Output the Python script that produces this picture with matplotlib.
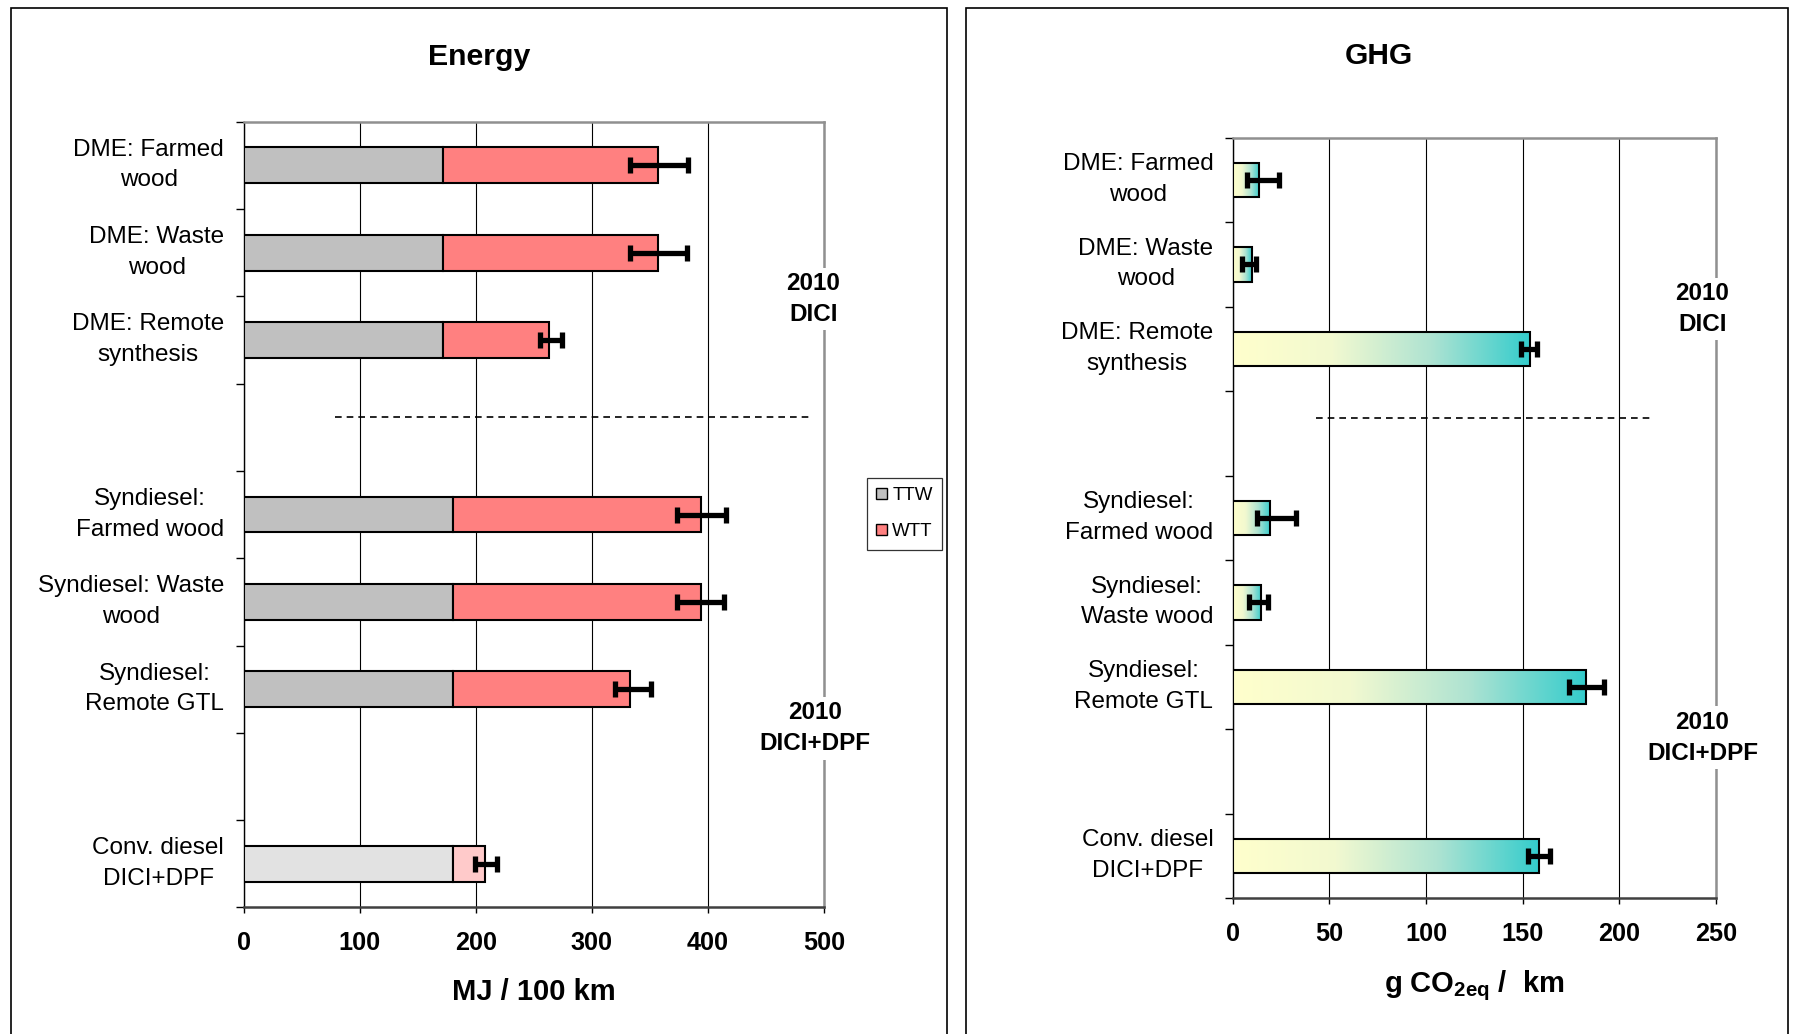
import numpy as np
import matplotlib
matplotlib.use('Agg')
import matplotlib.pyplot as plt
from matplotlib.patches import Rectangle, Patch
from matplotlib.colors import LinearSegmentedColormap
import matplotlib.transforms as mtransforms

plt.rcParams['font.family'] = ['Liberation Sans', 'DejaVu Sans']
plt.rcParams['mathtext.fontset'] = 'custom'
plt.rcParams['mathtext.rm'] = 'Liberation Sans'
plt.rcParams['mathtext.bf'] = 'Liberation Sans:bold'

# ---------------- data ----------------
energy_labels = ["DME: Farmed\nwood", "DME: Waste\nwood", "DME: Remote\nsynthesis",
                 "Syndiesel:\nFarmed wood", "Syndiesel: Waste\nwood",
                 "Syndiesel:\nRemote GTL", "Conv. diesel\nDICI+DPF"]
ghg_labels = ["DME: Farmed\nwood", "DME: Waste\nwood", "DME: Remote\nsynthesis",
              "Syndiesel:\nFarmed wood", "Syndiesel:\nWaste wood",
              "Syndiesel:\nRemote GTL", "Conv. diesel\nDICI+DPF"]
slots = [0, 1, 2, 4, 5, 6, 8]          # row index (gaps at 3 and 7)
energy_ttw = [172, 172, 172, 180, 180, 180, 180]
energy_total = [357, 357, 263, 394, 394, 333, 208]
energy_err_low = [333, 333, 255, 373, 373, 320, 199]
energy_err_high = [383, 382, 274, 416, 414, 351, 218]
ghg_total = [13.7, 9.8, 153.7, 19.5, 14.8, 182.8, 158.5]
ghg_err_low = [7.5, 4.7, 149.0, 12.6, 8.6, 174.0, 152.6]
ghg_err_high = [23.7, 12.0, 157.4, 32.6, 18.1, 192.0, 164.0]
energy_ticks = [0, 100, 200, 300, 400, 500]
ghg_ticks = [0, 50, 100, 150, 200, 250]
legend_labels = ["TTW", "WTT"]
group_labels = ["2010\nDICI", "2010\nDICI+DPF"]

W, H = 1796, 1034
fig = plt.figure(figsize=(W / 100, H / 100), dpi=100)
fig.patch.set_facecolor('white')

def fx(px):
    return px / W

def fy(py):
    return 1 - py / H

# panel borders
fig.add_artist(Rectangle((fx(11), -0.05), fx(947) - fx(11), fy(8) + 0.05,
                         transform=fig.transFigure, fill=False, edgecolor='black', lw=1.2))
fig.add_artist(Rectangle((fx(966), -0.05), fx(1788) - fx(966), fy(8) + 0.05,
                         transform=fig.transFigure, fill=False, edgecolor='black', lw=1.2))

axL = fig.add_axes([fx(243.6), fy(907.4), fx(824) - fx(243.6), fy(121.7) - fy(907.4)])
axR = fig.add_axes([fx(1232.7), fy(898.2), fx(1716) - fx(1232.7), fy(137.7) - fy(898.2)])

TICK_FS = 18.2
CAT_FS = 17.5
GRP_FS = 17.5

def style_axis(ax, ticks, labels):
    ax.set_xlim(ticks[0], ticks[-1])
    ax.set_ylim(8.5, -0.5)
    ax.set_xticks(ticks)
    ax.set_xticklabels([str(t) for t in ticks], fontsize=TICK_FS, fontweight='bold')
    ax.tick_params(axis='x', direction='out', length=4, width=1, pad=13, color='black')
    ax.set_yticks(np.arange(-0.5, 9.0, 1.0))
    ax.set_yticklabels([])
    ax.tick_params(axis='y', which='major', direction='out', length=6, width=1, color='black')
    ax.set_yticks(slots, minor=True)
    ax.set_yticklabels(labels, minor=True, fontsize=CAT_FS, multialignment='center',
                       linespacing=1.5)
    ax.tick_params(axis='y', which='minor', length=0, pad=14)
    shift = mtransforms.ScaledTranslation(0, 7 / 100, fig.dpi_scale_trans)
    for lbl in ax.get_yticklabels(minor=True):
        lbl.set_transform(lbl.get_transform() + shift)
    ax.grid(axis='x', color='black', lw=0.8)
    ax.set_axisbelow(True)
    ax.spines['left'].set_color('black')
    ax.spines['left'].set_linewidth(1)
    ax.spines['bottom'].set_color('#404040')
    ax.spines['bottom'].set_linewidth(1.8)
    ax.spines['top'].set_color('#909090')
    ax.spines['top'].set_linewidth(1.8)
    ax.spines['right'].set_color('#909090')
    ax.spines['right'].set_linewidth(1.8)

bar_h = 0.41

# ---------------- Energy ----------------
ttw = np.array(energy_ttw, float)
tot = np.array(energy_total, float)
wtt = tot - ttw
ttw_colors = ['#C0C0C0'] * 6 + ['#E2E2E2']
wtt_colors = ['#FF8080'] * 6 + ['#FFCACA']
axL.barh(slots, ttw, height=bar_h, color=ttw_colors, edgecolor='black', lw=1.5, zorder=3)
axL.barh(slots, wtt, left=ttw, height=bar_h, color=wtt_colors, edgecolor='black', lw=1.5, zorder=3)
axL.errorbar(tot, slots, xerr=[tot - np.array(energy_err_low), np.array(energy_err_high) - tot],
             fmt='none', ecolor='black', elinewidth=3.8, capsize=6, capthick=3.8, zorder=4)
style_axis(axL, energy_ticks, energy_labels)
axL.plot([79, 490], [2.88, 2.88], color='black', lw=1.2, ls=(0, (4, 3)), zorder=3)
axL.text(491, 1.53, group_labels[0], ha='center', va='center', fontsize=GRP_FS, fontweight='bold',
         linespacing=1.45, zorder=6, clip_on=False,
         bbox=dict(facecolor='white', edgecolor='none', pad=3))
axL.text(492, 6.45, group_labels[1], ha='center', va='center', fontsize=GRP_FS, fontweight='bold',
         linespacing=1.45, zorder=6, clip_on=False,
         bbox=dict(facecolor='white', edgecolor='none', pad=3))

fig.text(fx(478.8), fy(57), "Energy", ha='center', va='center', fontsize=21.8, fontweight='bold')
fig.text(fx(534), fy(992), "MJ / 100 km", ha='center', va='center', fontsize=21, fontweight='bold')

handles = [Patch(facecolor='#C0C0C0', edgecolor='black', lw=1),
           Patch(facecolor='#FF8080', edgecolor='black', lw=1)]
leg = fig.legend(handles, legend_labels, loc='upper left',
                 bbox_to_anchor=(fx(867), fy(478)), bbox_transform=fig.transFigure,
                 fontsize=13.5, handlelength=0.55, handleheight=0.55, handletextpad=0.3,
                 labelspacing=1.0, borderpad=0.5, borderaxespad=0, fancybox=False,
                 frameon=True, edgecolor='black')
leg.get_frame().set_linewidth(0.9)

# ---------------- GHG ----------------
g = np.array(ghg_total, float)
cmap = LinearSegmentedColormap.from_list('yt', ['#FFFFCC', '#F2F9D0', '#AEE3D2', '#33CCCC'])
bars = axR.barh(slots, g, height=bar_h, facecolor='none', edgecolor='black', lw=1.5, zorder=4)
grad = np.linspace(0, 1, 256).reshape(1, -1)
for b, v, s in zip(bars, g, slots):
    im = axR.imshow(grad, extent=[0, v, s + bar_h / 2, s - bar_h / 2], cmap=cmap,
                    aspect='auto', zorder=3, interpolation='bilinear')
    im.set_clip_path(b)
axR.errorbar(g, slots, xerr=[g - np.array(ghg_err_low), np.array(ghg_err_high) - g],
             fmt='none', ecolor='black', elinewidth=3.8, capsize=6, capthick=3.8, zorder=5)
style_axis(axR, ghg_ticks, ghg_labels)
axR.set_aspect('auto')
axR.plot([43, 216], [2.82, 2.82], color='black', lw=1.2, ls=(0, (4, 3)), zorder=3)
axR.text(243, 1.525, group_labels[0], ha='center', va='center', fontsize=GRP_FS, fontweight='bold',
         linespacing=1.45, zorder=6, clip_on=False,
         bbox=dict(facecolor='white', edgecolor='none', pad=3))
axR.text(243, 6.60, group_labels[1], ha='center', va='center', fontsize=GRP_FS, fontweight='bold',
         linespacing=1.45, zorder=6, clip_on=False,
         bbox=dict(facecolor='white', edgecolor='none', pad=3))

fig.text(fx(1379), fy(56), "GHG", ha='center', va='center', fontsize=21.5, fontweight='bold')
fig.text(fx(1474), fy(986), r"g CO$_{\mathbf{2eq}}$ /  km", ha='center', va='center',
         fontsize=21, fontweight='bold')

fig.savefig('out.png', dpi=100, facecolor='white')
